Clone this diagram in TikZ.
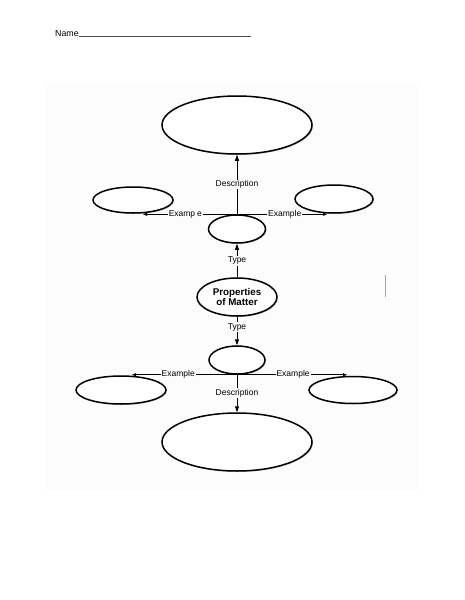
\documentclass[tikz,border=0pt]{standalone}
\usepackage{fontspec}
\setmainfont{Liberation Sans}
\usetikzlibrary{
    arrows.meta,
    shapes.geometric,
    shadows,
    calc
}
\tikzset{oval/.style={ellipse, draw=black, fill=white, line width=1.5pt, inner sep=0pt,
            drop shadow={shadow xshift=1pt, shadow yshift=-1pt, fill=black!40}},
         lbl/.style={fill=black!1, inner sep=1pt, font=\fontsize{8.5}{9}\selectfont},
         link/.style={line width=0.8pt, -{Triangle[length=6pt, width=4pt]}}}

\begin{document}
\begin{tikzpicture}[x=1pt, y=-1pt]
                        \useasboundingbox[fill=white] (0, 0) rectangle (464, 600);
                        \fill[black!1] (45, 83) rectangle (418, 490);
                        \draw[black!35, line width=0.6pt] (385, 275) -- (385, 297);
                        % name line
                        \node[anchor=base west, inner sep=0pt, font=\fontsize{8.8}{10}\selectfont] (name) at (55, 36) {Name};
                        \draw[black!70, line width=0.5pt] (name.base east) -- ++(172, 0);
                        % upper half
                        \node[oval, minimum width=150, minimum height=58] (desc1) at (237, 125) {};
                        \node[oval, minimum width=80, minimum height=26] (ex1) at (133, 200) {};
                        \node[oval, minimum width=78, minimum height=28] (ex2) at (334, 199) {};
                        \node[oval, minimum width=57, minimum height=28] (type1) at (237, 229) {};
                        \node[oval, minimum width=80, minimum height=38, align=center,
                              font=\fontsize{9.8}{10.5}\selectfont\bfseries] (pom) at (237, 297) {Properties\\of Matter};
                        % lower half
                        \node[oval, minimum width=56, minimum height=28] (type2) at (237, 360) {};
                        \node[oval, minimum width=90, minimum height=28] (ex3) at (121, 390) {};
                        \node[oval, minimum width=88, minimum height=27] (ex4) at (353, 390) {};
                        \node[oval, minimum width=150, minimum height=58] (desc2) at (237, 442) {};
                        % connectors
                        \draw[link] (pom.north) -- node[lbl, pos=0.49] {Type} (type1.south);
                        \draw[link] (type1.north) -- node[lbl] {Description} (desc1.south);
                        \draw[link, -{Triangle[length=4pt, width=3pt]}] (type1.north) -- node[lbl, pos=0.55] {Examp\phantom{l}e} ([xshift=10]ex1.south |- type1.north);
                        \draw[link, -{Triangle[length=4pt, width=3pt]}] (type1.north) -- node[lbl, pos=0.53] {Example} ([xshift=-7]ex2.south |- type1.north);
                        \draw[link] (pom.south) -- node[lbl, pos=0.37] {Type} (type2.north);
                        \draw[link] (type2.south) -- node[lbl, pos=0.49] {Description} (desc2.north);
                        \draw[link, -{Triangle[length=4pt, width=3pt]}] (type2.south) -- node[lbl, pos=0.56] {Example} ([xshift=11]ex3.north |- type2.south);
                        \draw[link, -{Triangle[length=4pt, width=3pt]}] (type2.south) -- node[lbl, pos=0.51] {Example} ([xshift=-6]ex4.north |- type2.south);
                    \end{tikzpicture}
\end{document}
